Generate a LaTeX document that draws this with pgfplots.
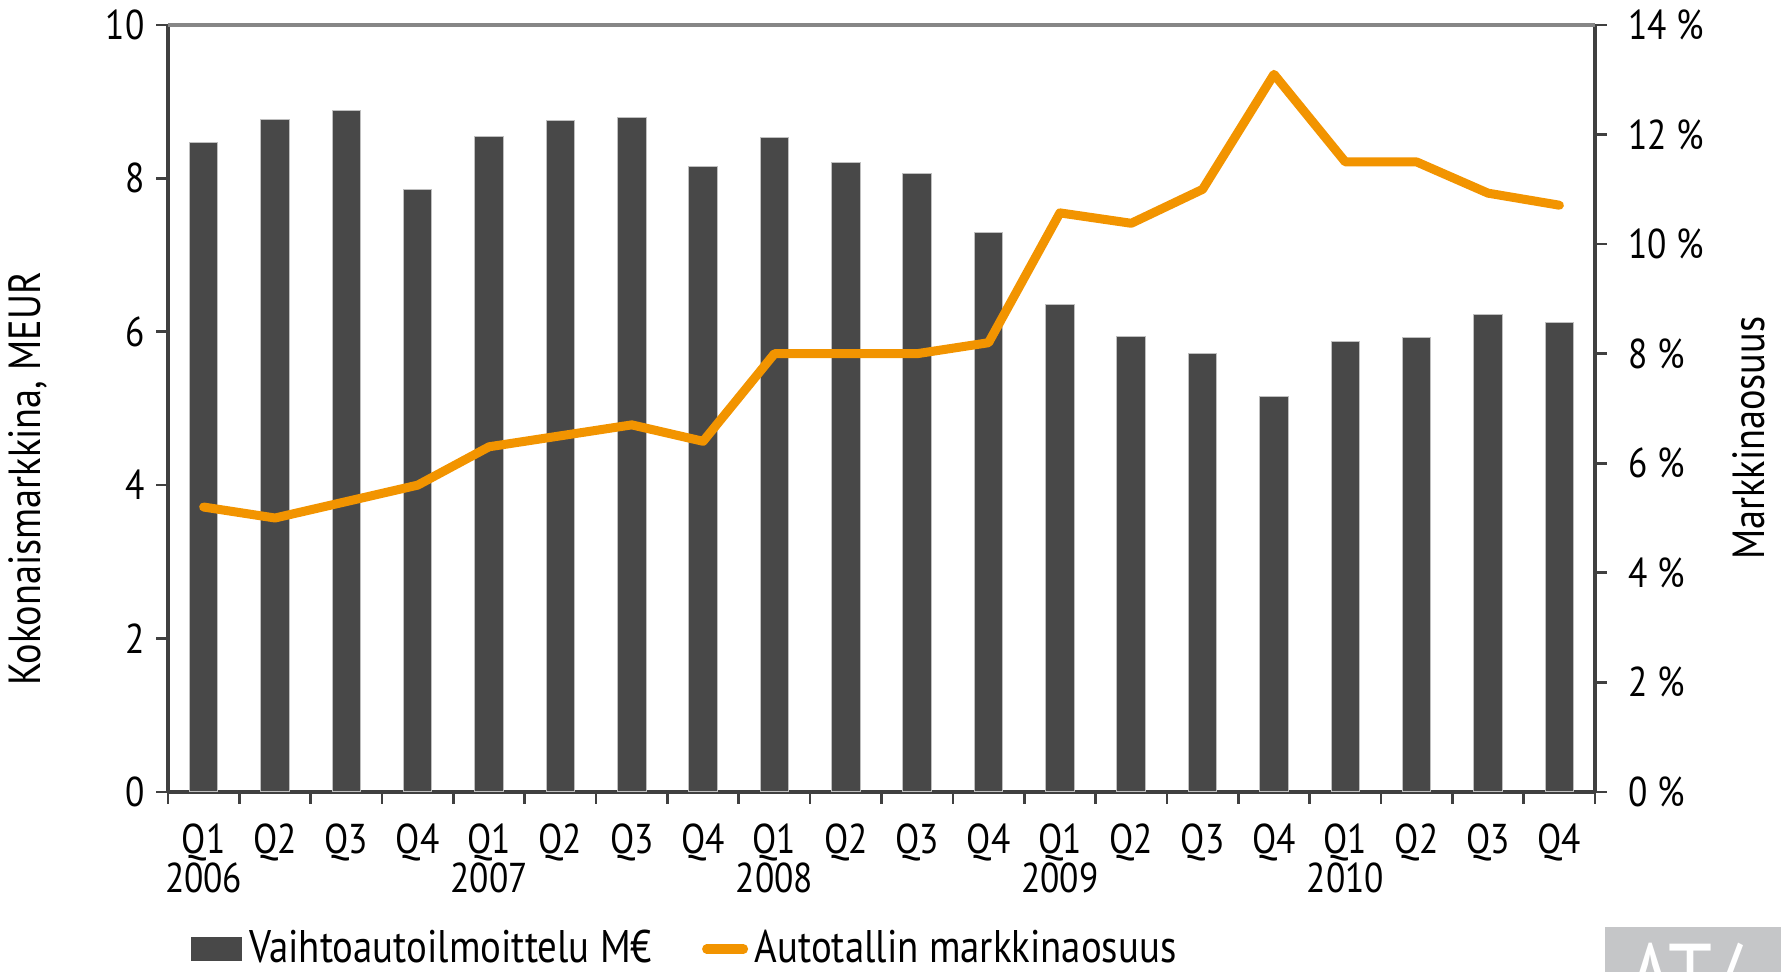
\documentclass[border=0pt]{standalone}
\usepackage{fontspec}
\setmainfont{PT Sans}[FakeStretch=0.85]
\usepackage{pgfplots}
\usepackage{pgfplotstable}
\pgfplotsset{compat=1.18}

\definecolor{barfill}{RGB}{72,72,72}
\definecolor{share}{RGB}{242,148,0}
\definecolor{axisdark}{RGB}{64,64,64}
\definecolor{framegray}{RGB}{134,134,134}
\definecolor{logogray}{RGB}{197,198,200}

% idx = quarter 0..19 (Q1 2006 .. Q4 2010)
\pgfplotstableread{
idx value share
0  8.47  5.2
1  8.77  5.0
2  8.89  5.3
3  7.86  5.6
4  8.55  6.3
5  8.75  6.5
6  8.80  6.7
7  8.15  6.4
8  8.53  8.0
9  8.21  8.0
10 8.07  8.0
11 7.30  8.2
12 6.35  10.57
13 5.94  10.38
14 5.71  11.0
15 5.15  13.1
16 5.87  11.5
17 5.93  11.5
18 6.23  10.93
19 6.12  10.71
}\datatable

\pgfplotsset{
  common/.style={
    width=428pt, height=230pt, scale only axis,
    xmin=-0.5, xmax=19.5,
    /pgf/number format/assume math mode=true,
    tick label style={font=\fontsize{12.5}{11.6}\selectfont, black},
    tick align=outside,
    major tick length=3.5pt,
    tick style={axisdark, line width=0.8pt},
  }
}

\begin{document}
\begin{tikzpicture}[font=\fontsize{13.5}{15}\selectfont]

\begin{axis}[common,
  ymin=0, ymax=10, ytick={0,2,...,10},
  axis x line*=bottom, axis y line*=left,
  x axis line style={-, axisdark, line width=1pt},
  y axis line style={-, axisdark, line width=1pt},
  xtick={-0.5,0.5,...,19.5},
  x tick label as interval,
  xticklabels={Q1\\2006,Q2,Q3,Q4,Q1\\2007,Q2,Q3,Q4,Q1\\2008,Q2,Q3,Q4,Q1\\2009,Q2,Q3,Q4,Q1\\2010,Q2,Q3,Q4},
  xticklabel style={align=center, yshift=-2.6pt},
  ybar, bar width=0.4,
  every axis y label/.style={at={(axis description cs:-0.098,0.408)}, anchor=center, rotate=90},
  ylabel={Kokonaismarkkina, MEUR},
  legend style={at={(0.016,-0.205)}, anchor=west, draw=none, fill=none, inner sep=0pt,
    font=\fontsize{13.7}{15}\selectfont,
    /tikz/every even column/.append style={column sep=13pt}},
  legend columns=2, legend cell align=left,
]
\addplot[fill=barfill, draw=black!25, line width=0.3pt,
  legend image code/.code={\fill[barfill] (0pt,-3.5pt) rectangle (15pt,3.5pt);}]
  table[x=idx, y=value]{\datatable};
\addlegendentry{Vaihtoautoilmoittelu M€}
\addlegendimage{legend image code/.code={\draw[share, line width=2.8pt, line cap=round] (1.5pt,0pt) -- (12.5pt,0pt);}}
\addlegendentry{Autotallin markkinaosuus}
\end{axis}

\begin{axis}[common,
  clip=false,
  ymin=0, ymax=14, ytick={0,2,...,14},
  yticklabels={0 \%,2 \%,4 \%,6 \%,8 \%,10 \%,12 \%,14 \%},
  axis y line*=right, axis x line=none,
  y axis line style={-, axisdark, line width=1pt},
  yticklabel style={xshift=3pt},
  every axis y label/.style={at={(axis description cs:1.108,0.461)}, anchor=center, rotate=90},
  ylabel={Markkinaosuus},
]
\addplot[share, line width=2.7pt, line join=round, line cap=round]
  table[x=idx, y=share]{\datatable};
\draw[framegray, line width=1pt] (rel axis cs:0,1) -- (rel axis cs:1,1);
% logo corner
\fill[logogray] (rel axis cs:1.007,-0.2347) rectangle (rel axis cs:1.14,-0.176);
\node[white, anchor=north west, inner sep=0pt, font=\fontsize{28}{28}\selectfont]
  at (rel axis cs:1.022,-0.196) {AT/};
\coordinate (bbSW) at (rel axis cs:-0.1177,-0.2347);
\coordinate (bbNE) at (rel axis cs:1.1303,1.0326);
\end{axis}

\pgfresetboundingbox
\path (bbSW) rectangle (bbNE);
\end{tikzpicture}
\end{document}
